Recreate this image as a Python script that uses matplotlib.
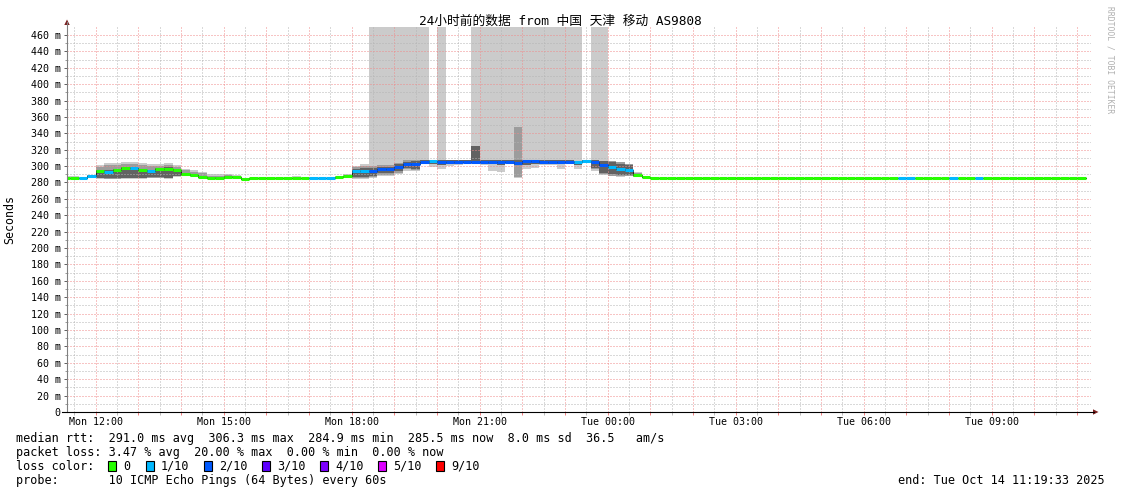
import numpy as np
import matplotlib
matplotlib.use("Agg")
import matplotlib.pyplot as plt
from matplotlib.lines import Line2D
from matplotlib.patches import Polygon, Rectangle

nan = np.nan

# rrd steps: 12 minutes, first step starts Mon 11:12 (hours since Mon 00:00)
step_start = 11.2
step_len = 0.2
view_start = 11 + 19 / 60 + 33 / 3600
view_end = view_start + 24

median_ms = [
    285.0, 285.0, 285.5, 287.8, 294.0, 293.0, 295.0, 298.0, 298.0, 295.5,
    293.5, 296.0, 297.0, 295.0, 290.5, 289.0, 287.0, 286.0, 285.8, 286.8,
    286.5, 284.5, 285.0, 285.0, 285.0, 285.0, 285.0, 285.0, 285.0, 285.3,
    285.3, 285.3, 287.0, 288.5, 293.5, 294.5, 294.0, 296.0, 296.0, 299.0,
    303.0, 302.0, 305.5, 306.0, 305.5, 305.5, 305.5, 305.5, 305.5, 305.5,
    305.5, 305.5, 305.5, 304.0, 306.0, 306.0, 305.5, 305.0, 305.0, 305.0,
    304.5, 306.5, 305.0, 301.5, 299.5, 296.0, 295.0, 288.8, 286.5, 285.5,
    285.3, 285.3, 285.3, 285.3, 285.3, 285.3, 285.3, 285.3, 285.3, 285.3,
    285.3, 285.3, 285.3, 285.3, 285.3, 285.3, 285.3, 285.3, 285.3, 285.3,
    285.3, 285.3, 285.3, 285.3, 285.3, 285.3, 285.3, 285.3, 285.3, 285.3,
    285.3, 285.3, 285.3, 285.3, 285.3, 285.3, 285.3, 285.3, 285.3, 285.3,
    285.3, 285.3, 285.3, 285.3, 285.3, 285.3, 285.3, 285.0, 285.3, 285.3,
]

# lost pings out of 10
loss_tenths = [
    0, 0, 1, 1, 0, 1, 0, 0, 1, 0,
    1, 0, 0, 0, 0, 0, 0, 0, 0, 0,
    0, 0, 0, 0, 0, 0, 0, 0, 0, 1,
    1, 1, 0, 0, 1, 1, 2, 2, 2, 2,
    2, 2, 2, 1, 2, 2, 2, 2, 2, 2,
    2, 2, 2, 2, 2, 2, 2, 2, 2, 2,
    1, 1, 2, 2, 1, 1, 1, 0, 0, 0,
    0, 0, 0, 0, 0, 0, 0, 0, 0, 0,
    0, 0, 0, 0, 0, 0, 0, 0, 0, 0,
    0, 0, 0, 0, 0, 0, 0, 0, 1, 1,
    0, 0, 0, 0, 1, 0, 0, 1, 0, 0,
    0, 0, 0, 0, 0, 0, 0, 0, 0, 0,
]

# outer smoke (470 = lost pings, smoke up to the top)
smoke_lo = [
    284.0, 284.0, 284.5, 286.0, 284.5, 284.0, 284.0, 284.5, 284.5, 284.5,
    285.0, 285.0, 284.5, 287.0, 287.5, 287.0, 286.0, 285.0, 285.0, 285.5,
    285.0, 284.0, 284.5, 284.5, 284.5, 284.5, 284.5, 284.5, 284.5, 284.8,
    284.8, 284.8, 285.5, 286.0, 284.5, 284.5, 286.0, 288.0, 288.0, 290.0,
    294.0, 294.0, 303.0, 299.0, 296.0, 300.0, 301.0, 303.5, 302.0, 301.0,
    294.0, 293.0, 302.0, 285.0, 297.0, 298.0, 301.0, 301.0, 297.0, 302.0,
    297.0, 304.0, 294.0, 289.0, 287.5, 287.0, 287.5, 286.5, 285.5, 284.8,
    284.8, 284.8, 284.8, 284.8, 284.8, 284.8, 284.8, 284.8, 284.8, 284.8,
    284.8, 284.8, 284.8, 284.8, 284.8, 284.8, 284.8, 284.8, 284.8, 284.8,
    284.8, 284.8, 284.8, 284.8, 284.8, 284.8, 284.8, 284.8, 284.8, 284.8,
    284.8, 284.8, 284.8, 284.8, 284.8, 284.8, 284.8, 284.8, 284.8, 284.8,
    284.8, 284.8, 284.8, 284.8, 284.8, 284.8, 284.8, 284.5, 284.8, 284.8,
]
smoke_hi = [
    288.0, 288.0, 287.0, 289.5, 301.5, 304.0, 304.0, 305.5, 305.5, 304.0,
    303.0, 303.0, 304.0, 301.5, 297.0, 295.0, 293.0, 290.0, 290.0, 290.5,
    289.5, 286.0, 286.0, 285.8, 285.8, 285.8, 285.8, 288.0, 285.8, 286.0,
    286.0, 286.0, 288.5, 290.5, 300.0, 303.0, 470.0, 470.0, 470.0, 470.0,
    470.0, 470.0, 470.0, 307.5, 470.0, 308.0, 307.5, 307.5, 470.0, 470.0,
    470.0, 470.0, 470.0, 470.0, 470.0, 470.0, 470.0, 470.0, 470.0, 470.0,
    470.0, 308.0, 470.0, 470.0, 306.0, 305.5, 303.0, 293.0, 288.0, 286.0,
    285.8, 285.8, 285.8, 285.8, 285.8, 285.8, 285.8, 285.8, 285.8, 285.8,
    285.8, 285.8, 285.8, 285.8, 285.8, 285.8, 285.8, 285.8, 285.8, 285.8,
    285.8, 285.8, 285.8, 285.8, 285.8, 285.8, 285.8, 285.8, 285.8, 285.8,
    285.8, 285.8, 285.8, 285.8, 285.8, 285.8, 285.8, 285.8, 285.8, 285.8,
    285.8, 285.8, 285.8, 285.8, 285.8, 285.8, 285.8, 285.5, 285.8, 285.8,
]

# middle smoke layer
mid_lo = [
    nan, nan, nan, 286.5, 285.0, 284.5, 284.5, 285.0, 285.0, 285.0,
    285.5, 285.5, 285.0, 288.0, 288.0, 287.5, 286.0, 285.5, 285.5, 285.8,
    285.5, nan, nan, nan, nan, nan, nan, nan, nan, nan,
    nan, nan, nan, nan, 285.5, 285.5, 287.0, 289.5, 289.5, 292.0,
    296.0, 295.5, nan, nan, nan, nan, nan, nan, nan, nan,
    nan, nan, nan, 287.0, nan, nan, nan, nan, nan, nan,
    nan, nan, 296.0, 290.5, 288.5, 288.0, 288.5, 287.0, nan, nan,
    nan, nan, nan, nan, nan, nan, nan, nan, nan, nan,
    nan, nan, nan, nan, nan, nan, nan, nan, nan, nan,
    nan, nan, nan, nan, nan, nan, nan, nan, nan, nan,
    nan, nan, nan, nan, nan, nan, nan, nan, nan, nan,
    nan, nan, nan, nan, nan, nan, nan, nan, nan, nan,
]
mid_hi = [
    nan, nan, nan, 289.0, 299.0, 301.0, 301.5, 303.0, 303.0, 301.5,
    300.0, 300.5, 301.5, 299.5, 295.0, 293.0, 291.0, 288.5, 288.5, 289.5,
    288.5, nan, nan, nan, nan, nan, nan, nan, nan, nan,
    nan, nan, nan, nan, 298.5, 300.0, 300.0, 301.0, 301.0, 304.0,
    307.0, 307.0, nan, nan, nan, nan, nan, nan, nan, nan,
    nan, nan, nan, 348.0, nan, nan, nan, nan, nan, nan,
    nan, nan, 307.0, 306.5, 306.0, 304.5, 302.0, 291.5, nan, nan,
    nan, nan, nan, nan, nan, nan, nan, nan, nan, nan,
    nan, nan, nan, nan, nan, nan, nan, nan, nan, nan,
    nan, nan, nan, nan, nan, nan, nan, nan, nan, nan,
    nan, nan, nan, nan, nan, nan, nan, nan, nan, nan,
    nan, nan, nan, nan, nan, nan, nan, nan, nan, nan,
]

# dense inner smoke
core_lo = [
    nan, nan, nan, 287.0, 286.0, 285.5, 285.5, 286.0, 286.0, 286.0,
    286.5, 286.5, 286.0, 288.5, 288.5, 288.0, 286.5, 285.5, 285.5, 286.0,
    285.5, nan, nan, nan, nan, nan, nan, nan, nan, nan,
    nan, nan, nan, nan, 287.0, 287.0, 288.0, 291.0, 291.0, 294.0,
    298.0, 297.0, 304.0, 303.0, 301.0, 302.0, 303.0, 304.0, 304.0, 304.0,
    302.0, 301.0, 304.0, 301.0, 301.0, 302.0, 303.0, 302.0, 302.0, 303.0,
    301.0, 305.0, 298.0, 292.0, 290.0, 289.0, 289.5, 287.5, 286.0, nan,
    nan, nan, nan, nan, nan, nan, nan, nan, nan, nan,
    nan, nan, nan, nan, nan, nan, nan, nan, nan, nan,
    nan, nan, nan, nan, nan, nan, nan, nan, nan, nan,
    nan, nan, nan, nan, nan, nan, nan, nan, nan, nan,
    nan, nan, nan, nan, nan, nan, nan, nan, nan, nan,
]
core_hi = [
    nan, nan, nan, 288.5, 295.5, 295.0, 296.5, 299.0, 299.0, 297.0,
    295.5, 297.5, 298.5, 296.5, 291.5, 290.5, 288.0, 287.0, 287.0, 287.5,
    287.5, nan, nan, nan, nan, nan, nan, nan, nan, nan,
    nan, nan, nan, nan, 297.0, 298.0, 298.0, 299.0, 299.0, 302.0,
    305.0, 306.0, 307.0, 307.0, 307.0, 307.0, 307.0, 307.0, 324.0, 307.0,
    307.0, 307.0, 307.0, 307.0, 307.0, 307.0, 307.0, 307.5, 307.0, 307.0,
    306.5, 308.0, 307.0, 306.0, 305.0, 303.0, 301.0, 290.0, 287.0, nan,
    nan, nan, nan, nan, nan, nan, nan, nan, nan, nan,
    nan, nan, nan, nan, nan, nan, nan, nan, nan, nan,
    nan, nan, nan, nan, nan, nan, nan, nan, nan, nan,
    nan, nan, nan, nan, nan, nan, nan, nan, nan, nan,
    nan, nan, nan, nan, nan, nan, nan, nan, nan, nan,
]

loss_keys = [0, 1, 2, 3, 4, 5, 9]
loss_labels = ["0", "1/10", "2/10", "3/10", "4/10", "5/10", "9/10"]
loss_colors = ["#26ff00", "#00b8ff", "#0059ff", "#5e00ff", "#7e00ff", "#dd00ff", "#ff0000"]

tick_hours = [12, 15, 18, 21, 24, 27, 30, 33]
tick_labels = ["Mon 12:00", "Mon 15:00", "Mon 18:00", "Mon 21:00",
               "Tue 00:00", "Tue 03:00", "Tue 06:00", "Tue 09:00"]

title = "24小时前的数据 from 中国 天津 移动 AS9808"
stats_lines = [
    "median rtt:  291.0 ms avg  306.3 ms max  284.9 ms min  285.5 ms now  8.0 ms sd  36.5   am/s",
    "packet loss: 3.47 % avg  20.00 % max  0.00 % min  0.00 % now",
    "loss color:",
    "probe:       10 ICMP Echo Pings (64 Bytes) every 60s",
]
end_text = "end: Tue Oct 14 11:19:33 2025"

plt.rcParams["font.family"] = ["DejaVu Sans Mono", "Noto Sans CJK SC"]

W, H = 1121, 494
fig = plt.figure(figsize=(W / 100, H / 100), dpi=100)


def fx(px):
    return px / W


def fy(py):
    return 1 - py / H


ax = fig.add_axes([fx(67), fy(412), 1024 / W, 385 / H])
for s in ax.spines.values():
    s.set_visible(False)

t = step_start + step_len * np.arange(len(median_ms))
med = np.array(median_ms)

layers = [
    (smoke_lo, smoke_hi, "#cbcbcb"),
    (mid_lo, mid_hi, "#9c9c9c"),
    (core_lo, core_hi, "#626262"),
]
for z, (lo, hi, col) in enumerate(layers):
    lo, hi = np.array(lo), np.array(hi)
    ax.bar(t, hi - lo, bottom=lo, width=step_len, align="edge",
           color=col, linewidth=0, zorder=1 + 0.1 * z)

# dark step connectors, then the loss-coloured median
ax.step(np.r_[t, t[-1] + step_len], np.r_[med, med[-1]], where="post",
        color="#202020", lw=0.7, zorder=3)
seg_colors = [loss_colors[loss_keys.index(l)] for l in loss_tenths]
ax.hlines(med, t, t + step_len, colors=seg_colors, linewidth=2.2,
          capstyle="butt", zorder=3.1)

ax.set_xlim(view_start, view_end)
ax.set_ylim(0, 469.7)

hours = np.arange(12, 36)
ax.set_xticks(hours)
ax.set_xticklabels([tick_labels[tick_hours.index(h)] if h in tick_hours else "" for h in hours])
ax.set_xticks(np.arange(11.5, 35.5, 1.0), minor=True)
ax.set_yticks(np.arange(0, 461, 20))
ax.set_yticklabels(["0" if v == 0 else f"{v} m" for v in range(0, 461, 20)])
ax.set_yticks(np.arange(10, 470, 20), minor=True)

dots = (0, (1, 2))
ax.set_axisbelow(False)
ax.grid(which="major", color="#f08a8a", linestyle=dots, linewidth=0.72)
ax.grid(which="minor", color="#b4b4b4", linestyle=dots, linewidth=0.72)

ax.tick_params(axis="x", which="major", length=2, width=0.7, color="#f08080",
               labelsize=7.2, pad=1.5)
ax.tick_params(axis="x", which="minor", length=2, width=0.7, color="#bbbbbb")
ax.tick_params(axis="y", which="major", length=2.5, width=0.7, color="#606060",
               labelsize=7.2, pad=2)
ax.tick_params(axis="y", which="minor", length=1.5, width=0.7, color="#999999")

# axes with arrow heads
fig.add_artist(Line2D([fx(67), fx(67)], [fy(412), fy(22)], transform=fig.transFigure,
                      color="#808080", lw=0.8))
fig.add_artist(Polygon([(fx(64.3), fy(25)), (fx(69.7), fy(25)), (fx(67), fy(19.5))],
                       closed=True, transform=fig.transFigure, color="#7a1f1f", lw=0))
fig.add_artist(Line2D([fx(62), fx(1094)], [fy(412), fy(412)], transform=fig.transFigure,
                      color="#000000", lw=0.8))
fig.add_artist(Polygon([(fx(1093), fy(409.3)), (fx(1093), fy(414.7)), (fx(1098.5), fy(412))],
                       closed=True, transform=fig.transFigure, color="#7a1f1f", lw=0))

fig.text(fx(560), fy(21), title, ha="center", va="center", fontsize=9.2)
fig.text(fx(10), fy(219), "Seconds", rotation=90, ha="center", va="center", fontsize=8.4)
fig.text(fx(1110), fy(60), "RRDTOOL / TOBI OETIKER", rotation=270, ha="center",
         va="center", fontsize=5.8, color="#b0b0b0")

row_y = [438, 452, 466, 480]
for line, y in zip(stats_lines, row_y):
    fig.text(fx(16), fy(y), line, ha="left", va="center", fontsize=8.5)
fig.text(fx(1105), fy(480), end_text, ha="right", va="center", fontsize=8.5)

sq_x = [108, 146, 204, 262, 320, 378, 436]
for x, col, lab in zip(sq_x, loss_colors, loss_labels):
    fig.add_artist(Rectangle((fx(x), fy(471)), 8 / W, 10 / H, transform=fig.transFigure,
                             facecolor=col, edgecolor="#000000", lw=0.8))
    fig.text(fx(x + 15), fy(466), lab, ha="left", va="center", fontsize=8.5)

fig.savefig("out.png", dpi=100)
